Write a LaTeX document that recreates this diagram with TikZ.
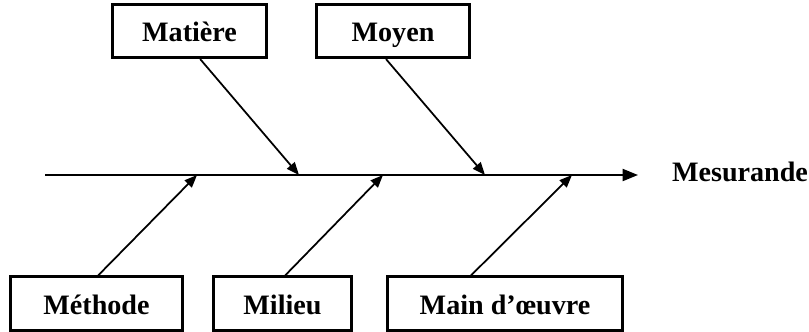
\documentclass[tikz,border=0pt]{standalone}
\usepackage{fontspec}
\setmainfont{Liberation Serif}
\usetikzlibrary{arrows.meta,positioning}

\begin{document}
\begin{tikzpicture}[
    x=0.03cm, y=-0.03cm,
    cause/.style={rectangle, draw, line width=2.4pt, minimum height=1.6cm,
                  inner sep=2pt, align=center, text height=21pt, text depth=3pt,
                  font=\bfseries\fontsize{24}{27}\selectfont},
    effet/.style={font=\bfseries\fontsize{24}{27}\selectfont},
    spine/.style={line width=1.6pt, -{Triangle[length=0.46cm, width=0.36cm]}},
    bone/.style={line width=1.5pt, -{Triangle[length=0.38cm, width=0.3cm]}}
  ]
    \useasboundingbox (0,0) rectangle (809,331);

    % Spine
    \coordinate (s0) at (45,175);
    \coordinate (s1) at (638,175);
    \draw[spine] (s0) -- (s1);
    \node[effet] (mes) at (740,172) {Mesurande};

    % Upper causes
    \node[cause, minimum width=4.62cm] (mat) at (189.5,31) {Matière};
    \node[cause, minimum width=4.6cm]  (moy) at (393,31)   {Moyen};

    % Lower causes
    \node[cause, minimum width=5.17cm] (met) at (96.5,303.5) {Méthode};
    \node[cause, minimum width=4.15cm] (mil) at (282.5,303.5) {Milieu};
    \node[cause, minimum width=7.06cm] (mai) at (505,303.5)   {Main d’œuvre};

    % Points on the spine
    \coordinate (pmat) at (299,175);
    \coordinate (pmoy) at (485,175);
    \coordinate (pmet) at (197,175);
    \coordinate (pmil) at (383,175);
    \coordinate (pmai) at (572,175);

    % Bones
    \draw[bone] ([xshift=0.32cm]mat.south) -- (pmat);
    \draw[bone] ([xshift=-0.21cm]moy.south) -- (pmoy);
    \draw[bone] ([xshift=0.05cm]met.north) -- (pmet);
    \draw[bone] ([xshift=0.08cm]mil.north) -- (pmil);
    \draw[bone] ([xshift=-1.02cm]mai.north) -- (pmai);
\end{tikzpicture}
\end{document}
